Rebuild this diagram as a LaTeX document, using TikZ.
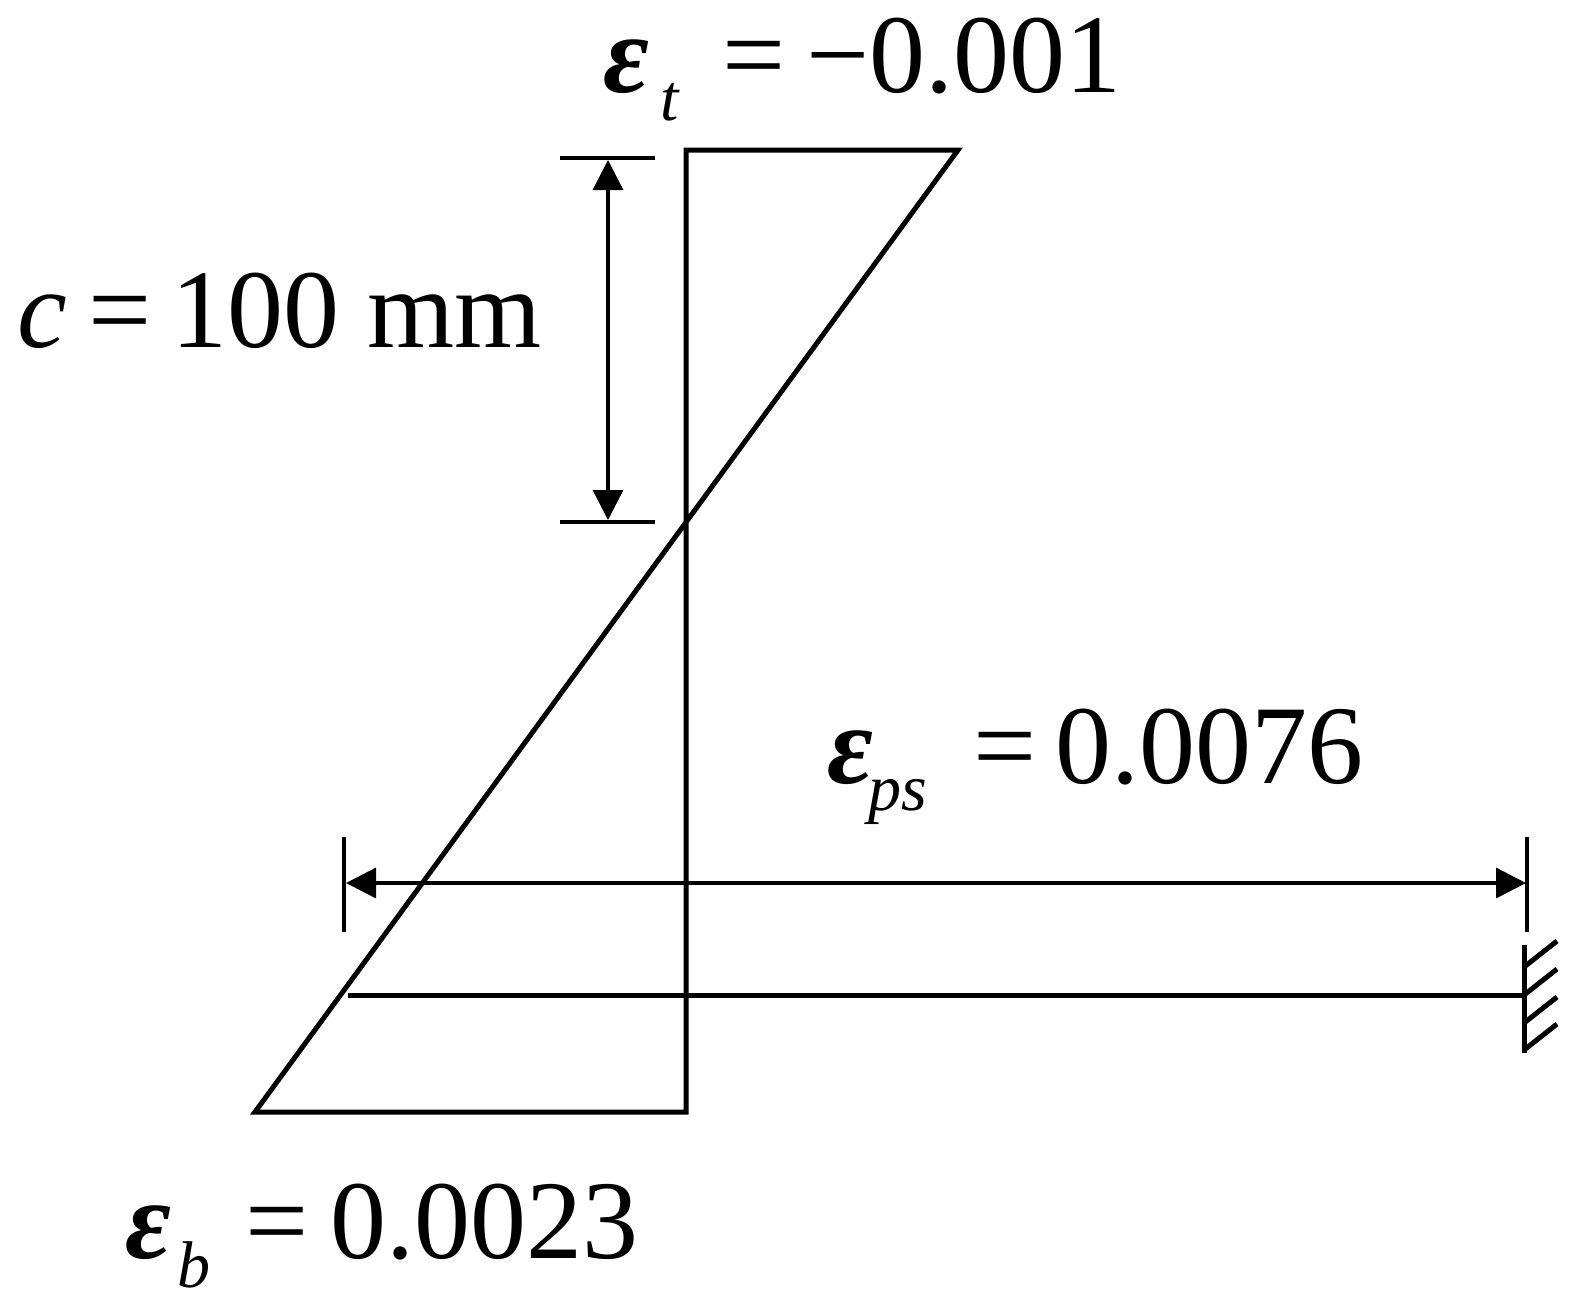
\documentclass[tikz,border=0pt]{standalone}
\usepackage{fontspec}
\setmainfont{Liberation Serif}
\usetikzlibrary{arrows.meta}
\begin{document}
\begin{tikzpicture}[x=0.5pt,y=-0.5pt,
  thick line/.style={line width=2.5pt},
  thin line/.style={line width=1.7pt},
  dimarrow/.style={line width=1.7pt,{Triangle[length=15pt,width=15pt]}-{Triangle[length=15pt,width=15pt]}},
  big/.style={inner sep=0pt,anchor=base west,font=\fontsize{56}{60}\selectfont},
  sub/.style={inner sep=0pt,anchor=base west,font=\fontsize{33}{36}\selectfont\itshape},
  ital/.style={inner sep=0pt,anchor=base west,font=\fontsize{56}{60}\selectfont\itshape},
  sym/.style={inner sep=0pt,anchor=base west,font=\fontsize{56}{60}\selectfont\bfseries\itshape}]
\path[use as bounding box] (0,0) rectangle (1590,1314);
% strain diagram
\coordinate (rb) at (686,1112);
\coordinate (rt) at (686,150);
\coordinate (tr) at (958,150);
\coordinate (bl) at (255,1112);
\draw[thick line, line join=miter] (rb) -- (rt) -- (tr) -- (bl) -- cycle;
% c dimension
\coordinate (c1a) at (560,158); \coordinate (c1b) at (655,158);
\coordinate (c2a) at (560,522); \coordinate (c2b) at (655,522);
\draw[thin line] (c1a) -- (c1b);
\draw[thin line] (c2a) -- (c2b);
\coordinate (ca) at (608,160); \coordinate (cb) at (608,520);
\draw[dimarrow] (ca) -- (cb);
% eps_ps dimension
\coordinate (t1a) at (344,837); \coordinate (t1b) at (344,932);
\coordinate (t2a) at (1527,837); \coordinate (t2b) at (1527,932);
\draw[thin line] (t1a) -- (t1b);
\draw[thin line] (t2a) -- (t2b);
\coordinate (pa) at (346,883); \coordinate (pb) at (1526,883);
\draw[dimarrow] (pa) -- (pb);
% tendon and anchor
\coordinate (la) at (348,995); \coordinate (lb) at (1524,995);
\draw[thick line] (la) -- (lb);
\coordinate (wa) at (1524,945); \coordinate (wb) at (1524,1053);
\draw[thick line] (wa) -- (wb);
\foreach \y [count=\i] in {967,995,1023,1050}{
  \coordinate (h\i a) at (1524,\y);
  \coordinate (h\i b) at (1557,\y-26);
  \draw[thick line] (h\i a) -- (h\i b);
}
% labels
\node[sym] (et) at (603,92) {ε};
\node[sub] (ets) at (660,120) {t};
\node[big] (etq) at (722,92) {=};
\node[big] (etn) at (806,92) {−0.001};
\node[ital] (cc) at (17,347) {c};
\node[big] (ceq) at (88,347) {=};
\node[big] (cn) at (171,347) {100 mm};
\node[sym] (ep) at (827,783) {ε};
\node[sub] (eps) at (868,810) {ps};
\node[big] (epq) at (973,783) {=};
\node[big] (epn) at (1055,783) {0.0076};
\node[sym] (eb) at (125,1258) {ε};
\node[sub] (ebs) at (177,1287) {b};
\node[big] (ebq) at (245,1258) {=};
\node[big] (ebn) at (330,1258) {0.0023};
\end{tikzpicture}
\end{document}
